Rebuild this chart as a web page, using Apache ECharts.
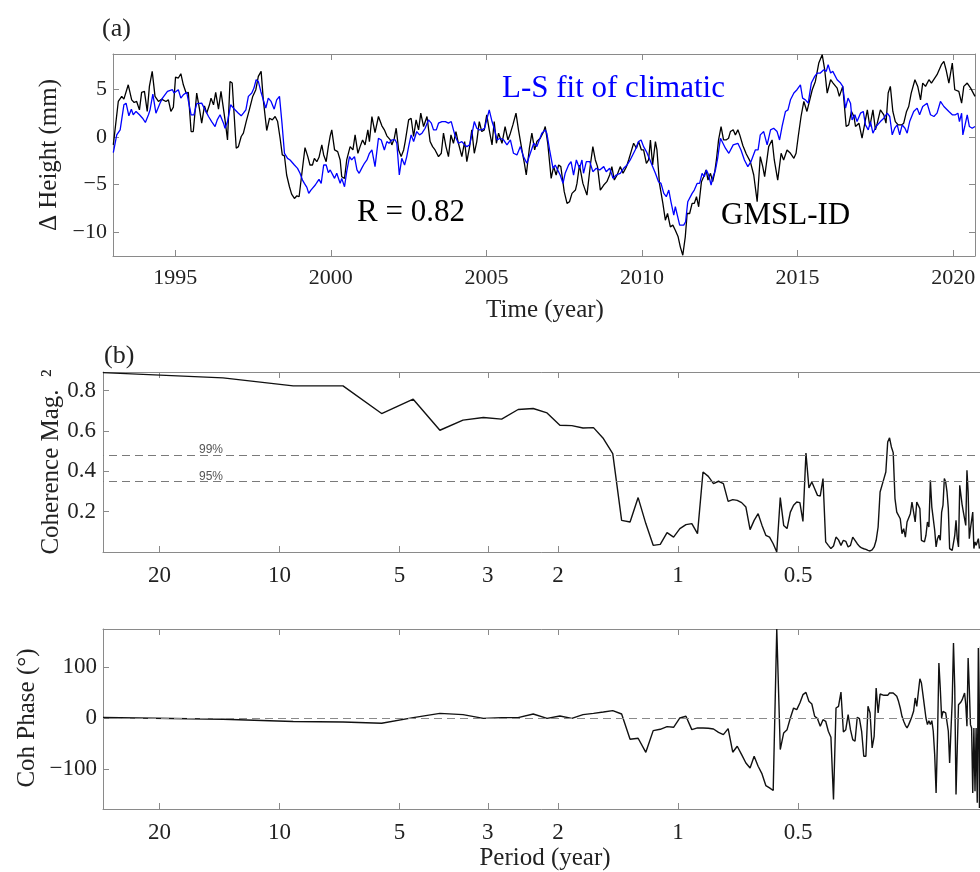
<!DOCTYPE html>
<html>
<head>
<meta charset="utf-8">
<script src="https://cdn.jsdelivr.net/npm/echarts@6/dist/echarts.min.js"></script>
<style>
html, body { margin: 0; padding: 0; background: #fff; }
#container { width: 980px; height: 872px; }
</style>
</head>
<body>
<div id="container"></div>
<script>
var dom = document.getElementById("container");
var myChart = echarts.init(dom);

// (a) GMSL-ID and its L-S fit of climatic indices, mm, decimal years
var gmslYear = [1993.01,1993.17,1993.28,1993.35,1993.49,1993.60,1993.68,1993.76,1993.85,1993.92,1994.01,1994.10,1994.17,1994.26,1994.35,1994.46,1994.56,1994.62,1994.70,1994.78,1994.86,1994.94,1995.01,1995.10,1995.18,1995.26,1995.35,1995.42,1995.51,1995.58,1995.69,1995.78,1995.85,1995.94,1996.01,1996.10,1996.15,1996.23,1996.30,1996.39,1996.47,1996.53,1996.60,1996.68,1996.76,1996.83,1996.89,1996.96,1997.03,1997.12,1997.19,1997.28,1997.38,1997.49,1997.59,1997.67,1997.76,1997.83,1997.94,1998.03,1998.12,1998.21,1998.29,1998.37,1998.44,1998.51,1998.58,1998.67,1998.74,1998.83,1998.91,1998.98,1999.07,1999.17,1999.26,1999.33,1999.41,1999.47,1999.55,1999.62,1999.71,1999.77,1999.85,1999.92,1999.98,
  2000.03,2000.12,2000.22,2000.30,2000.35,2000.44,2000.51,2000.62,2000.71,2000.78,2000.87,2000.94,2001.02,2001.10,2001.19,2001.24,2001.32,2001.42,2001.53,2001.64,2001.72,2001.80,2001.91,2001.96,2002.04,2002.10,2002.18,2002.26,2002.34,2002.39,2002.50,2002.58,2002.66,2002.74,2002.82,2002.89,2002.98,2003.09,2003.19,2003.27,2003.35,2003.46,2003.55,2003.62,2003.70,2003.78,2003.86,2003.94,2004.02,2004.10,2004.21,2004.30,2004.37,2004.46,2004.53,2004.61,2004.69,2004.77,2004.85,2004.93,2005.01,2005.09,2005.18,2005.25,2005.32,2005.39,2005.50,2005.60,2005.69,2005.77,2005.85,2005.95,2006.03,2006.14,2006.22,2006.28,2006.38,2006.46,2006.55,2006.62,2006.73,2006.84,2006.89,
  2006.97,2007.08,2007.16,2007.24,2007.32,2007.39,2007.50,2007.59,2007.67,2007.75,2007.86,2007.91,2007.99,2008.10,2008.23,2008.34,2008.42,2008.50,2008.57,2008.66,2008.77,2008.87,2008.96,2009.03,2009.11,2009.20,2009.30,2009.39,2009.50,2009.57,2009.65,2009.73,2009.82,2009.89,2009.98,2010.05,2010.14,2010.21,2010.27,2010.34,2010.43,2010.48,2010.56,2010.61,2010.67,2010.75,2010.82,2010.91,2010.99,2011.07,2011.16,2011.23,2011.31,2011.39,2011.45,2011.53,2011.61,2011.68,2011.75,2011.82,2011.91,2011.98,2012.06,2012.12,2012.20,2012.27,2012.33,2012.39,2012.46,2012.54,2012.62,2012.70,2012.78,2012.84,2012.93,2013.00,2013.08,2013.14,2013.24,2013.35,2013.48,2013.59,
  2013.70,2013.80,2013.88,2013.94,2014.07,2014.18,2014.25,2014.36,2014.47,2014.55,2014.66,2014.77,2014.88,2014.95,2015.02,2015.11,2015.20,2015.30,2015.47,2015.57,2015.68,2015.79,2015.87,2015.95,2016.06,2016.14,2016.27,2016.34,2016.45,2016.56,2016.64,2016.73,2016.81,2016.86,2016.97,2017.07,2017.16,2017.24,2017.32,2017.42,2017.50,2017.56,2017.66,2017.77,2017.84,2017.91,2017.98,2018.06,2018.14,2018.23,2018.34,2018.41,2018.50,2018.57,2018.65,2018.77,2018.86,2018.95,2019.02,2019.11,2019.22,2019.30,2019.48,2019.62,2019.70,2019.77,2019.86,2019.97,2020.05,2020.18,2020.27,2020.34,2020.45,2020.56,2020.70];
var gmslVal = [-0.84,3.72,4.25,3.96,5.47,3.89,3.61,3.72,2.84,4.67,4.77,2.67,5.30,6.88,4.25,3.72,3.96,4.14,3.72,3.89,2.67,3.12,6.28,6.18,6.63,5.47,4.60,4.67,0.56,0.56,4.60,2.91,1.44,3.26,2.49,3.37,4.07,3.37,4.67,2.91,4.77,4.77,1.79,-0.32,5.82,5.65,2.49,-1.19,-1.02,0.04,0.39,1.61,2.84,4.25,4.95,6.35,6.88,3.89,0.67,1.96,1.79,2.14,1.61,-0.14,-1.89,-2.00,-4.00,-5.23,-6.00,-6.46,-6.18,-6.28,-3.82,-1.12,-2.07,-2.95,-2.95,-2.25,-2.60,-2.14,-0.84,-1.89,-2.60,-1.02,0.11,
  0.74,-1.37,-1.54,-2.42,-4.18,-4.35,-2.42,-1.02,-1.37,0.21,-1.72,-1.02,-0.32,-0.84,0.74,-0.49,2.14,0.46,2.14,1.16,0.74,0.11,-0.32,-0.84,-0.14,0.91,-1.37,-2.07,-1.37,-0.49,1.79,1.96,0.04,1.79,0.74,2.49,1.09,2.14,-0.49,-1.02,-1.37,-2.07,-1.72,0.39,-1.02,-2.07,0.21,-0.67,0.56,-0.67,-2.07,-0.49,-2.60,-1.02,0.74,-1.72,-0.49,1.61,0.56,0.74,2.32,0.74,-0.84,1.61,-0.67,0.39,-0.67,1.09,-0.32,0.39,1.26,2.49,0.74,-1.37,-2.77,-4.00,-1.19,0.39,-1.37,-0.49,-0.14,0.56,1.09,
  -0.67,-4.35,-3.12,-4.00,-2.95,-3.12,-5.75,-6.98,-6.81,-5.93,-5.58,-4.88,-2.95,-4.88,-6.11,-2.95,-1.02,-2.42,-3.12,-5.58,-5.05,-4.70,-4.00,-3.12,-4.53,-4.00,-3.12,-3.82,-3.12,-2.42,-1.54,-0.67,-1.19,-0.49,-1.37,-1.37,-2.77,-2.42,-0.32,-2.95,-0.49,-1.37,-4.88,-4.70,-6.98,-8.74,-8.04,-9.44,-9.26,-9.79,-10.49,-11.54,-12.42,-10.49,-8.04,-8.04,-6.98,-6.98,-6.28,-7.33,-4.70,-4.18,-3.47,-4.53,-3.82,-4.70,-3.82,-2.42,-0.32,1.09,-0.32,-0.32,-0.14,0.56,0.74,0.21,0.74,0.21,-0.90,-1.80,-2.60,-4.00,
  -6.81,-2.07,-3.12,-4.18,-1.02,-0.32,-2.42,-4.53,-1.72,-2.42,-1.37,-1.72,-2.25,-1.72,0.04,2.14,3.72,2.67,4.95,5.82,7.75,8.63,7.05,4.60,6.00,5.65,5.12,4.25,5.30,1.09,1.26,2.67,2.14,1.09,1.44,-0.14,1.44,2.84,1.09,2.84,0.74,1.44,2.84,2.32,1.44,4.60,5.30,2.67,1.61,1.26,1.26,1.44,2.67,3.19,4.60,6.00,5.30,3.89,5.65,5.30,6.00,5.65,6.53,7.58,7.93,7.05,5.65,7.75,4.95,4.77,3.54,5.30,5.65,5.12,4.25];

var fitYear = [1993.01,1993.12,1993.23,1993.28,1993.35,1993.42,1993.51,1993.59,1993.65,1993.74,1993.85,1993.95,1994.04,1994.14,1994.19,1994.28,1994.38,1994.44,1994.51,1994.59,1994.65,1994.75,1994.80,1994.91,1994.96,1995.10,1995.18,1995.26,1995.37,1995.43,1995.51,1995.60,1995.69,1995.75,1995.85,1995.96,1996.07,1996.17,1996.28,1996.35,1996.44,1996.55,1996.60,1996.68,1996.78,1996.92,1997.03,1997.12,1997.19,1997.27,1997.35,1997.46,1997.53,1997.60,1997.67,1997.75,1997.83,1997.91,1997.99,1998.08,1998.18,1998.26,1998.35,1998.43,1998.51,1998.61,1998.69,1998.74,1998.83,1998.93,1999.01,1999.09,1999.15,1999.23,1999.29,1999.36,1999.42,1999.50,1999.57,1999.62,1999.69,1999.77,1999.85,1999.92,1999.98,
  2000.03,2000.12,2000.19,2000.30,2000.35,2000.44,2000.51,2000.60,2000.67,2000.76,2000.84,2000.91,2000.99,2001.08,2001.16,2001.24,2001.32,2001.42,2001.53,2001.62,2001.72,2001.80,2001.87,2001.96,2002.07,2002.12,2002.20,2002.28,2002.37,2002.44,2002.50,2002.58,2002.66,2002.76,2002.85,2002.93,2003.03,2003.14,2003.23,2003.30,2003.39,2003.46,2003.57,2003.68,2003.78,2003.87,2003.94,2004.00,2004.10,2004.21,2004.30,2004.37,2004.46,2004.53,2004.61,2004.69,2004.77,2004.85,2004.94,2005.09,2005.18,2005.25,2005.34,2005.44,2005.55,2005.66,2005.77,2005.87,2005.98,2006.09,2006.19,2006.30,2006.41,2006.52,2006.62,2006.78,2006.89,
  2006.94,2007.03,2007.14,2007.21,2007.37,2007.46,2007.53,2007.64,2007.72,2007.80,2007.89,2007.99,2008.07,2008.12,2008.21,2008.32,2008.42,2008.53,2008.64,2008.77,2008.85,2008.96,2009.07,2009.17,2009.30,2009.41,2009.52,2009.62,2009.78,2009.89,2009.97,2010.05,2010.14,2010.21,2010.32,2010.43,2010.53,2010.61,2010.70,2010.78,2010.86,2010.93,2011.02,2011.07,2011.12,2011.21,2011.34,2011.40,2011.47,2011.53,2011.61,2011.68,2011.77,2011.85,2011.93,2012.00,2012.07,2012.14,2012.22,2012.28,2012.36,2012.43,2012.52,2012.60,2012.68,2012.79,2012.93,2013.08,2013.18,2013.29,2013.40,2013.50,
  2013.64,2013.73,2013.80,2013.91,2014.02,2014.13,2014.23,2014.34,2014.42,2014.50,2014.61,2014.69,2014.77,2014.88,2014.98,2015.09,2015.16,2015.25,2015.34,2015.44,2015.55,2015.63,2015.73,2015.84,2015.92,2015.98,2016.06,2016.13,2016.19,2016.27,2016.38,2016.45,2016.54,2016.62,2016.70,2016.75,2016.84,2016.91,2017.02,2017.11,2017.18,2017.27,2017.34,2017.42,2017.52,2017.66,2017.77,2017.88,2017.96,2018.04,2018.12,2018.20,2018.28,2018.36,2018.45,2018.52,2018.60,2018.73,2018.84,2018.92,2019.02,2019.16,2019.27,2019.38,2019.48,2019.59,2019.70,2019.86,2019.97,2020.07,2020.15,2020.20,2020.27,2020.31,2020.37,2020.45,2020.52,2020.61,2020.70];
var fitVal = [-1.65,0.21,0.74,0.91,3.37,3.54,2.21,2.91,2.32,2.67,2.32,1.96,1.51,2.32,2.84,4.49,2.49,2.49,3.54,4.07,4.25,4.77,4.60,4.95,4.60,4.95,4.07,4.42,4.67,4.60,2.32,2.32,3.50,3.37,3.54,2.84,2.14,1.61,1.09,1.79,2.32,1.44,0.91,1.61,3.37,2.84,2.49,2.21,2.49,2.84,4.25,4.60,5.12,6.00,5.82,4.77,3.89,3.02,4.07,3.72,2.91,3.89,4.25,1.44,-1.72,-2.25,-2.42,-2.35,-2.95,-3.30,-3.82,-4.53,-4.88,-5.30,-5.93,-5.58,-5.75,-5.05,-4.70,-4.46,-4.88,-2.95,-2.95,-3.75,-3.47,
  -3.47,-4.35,-3.82,-4.88,-4.35,-5.23,-3.65,-2.07,-2.42,-2.07,-3.47,-3.82,-3.30,-2.77,-2.42,-1.72,-1.37,-3.12,-0.14,-0.32,-1.37,-0.49,-0.67,-0.32,-0.32,-0.67,-4.00,-2.25,-2.95,-2.07,-1.02,0.21,-0.49,0.56,0.21,0.39,0.91,1.79,1.44,0.74,0.74,1.44,1.61,1.61,1.44,1.61,0.74,0.04,-0.67,-0.49,-0.84,-1.02,-0.84,0.21,1.61,0.91,0.74,0.74,0.91,2.84,1.61,0.91,-0.32,-0.14,-0.32,-0.84,-0.32,-1.72,-1.89,-1.02,-2.07,-2.77,-1.72,-0.67,-1.02,0.39,0.74,
  0.39,-1.37,-3.30,-2.95,-4.00,-4.88,-3.82,-2.95,-2.60,-4.00,-2.42,-3.30,-2.42,-3.82,-2.60,-2.60,-3.65,-3.30,-3.47,-3.12,-3.65,-3.30,-4.35,-4.00,-3.82,-3.30,-2.95,-2.42,-1.37,-0.49,-0.32,-1.02,-1.54,-2.07,-2.95,-3.82,-4.70,-4.88,-5.93,-6.28,-5.58,-6.81,-8.21,-7.33,-7.16,-9.26,-9.26,-8.91,-6.81,-6.63,-5.93,-5.58,-4.88,-4.88,-3.82,-4.18,-3.47,-4.00,-5.05,-4.18,-3.47,-2.25,-0.14,-0.67,-1.19,-1.72,-0.84,-0.67,-1.37,-2.42,-3.12,-2.60,
  -1.37,-1.37,0.21,0.56,-0.84,0.74,0.91,0.56,-0.32,1.09,2.67,2.84,3.89,4.60,4.95,5.47,4.07,3.89,3.54,5.65,6.35,6.70,6.70,7.05,6.88,7.58,6.70,6.88,6.88,6.00,5.65,5.30,3.02,4.07,3.54,1.79,2.32,1.61,2.49,2.67,1.26,0.74,1.61,0.39,1.09,1.61,1.96,2.49,2.14,0.21,0.91,1.26,0.21,1.26,0.91,0.39,1.61,2.67,3.02,2.32,3.19,3.54,2.32,2.14,2.49,3.72,3.19,2.67,2.32,2.32,2.49,1.61,2.49,0.21,1.09,2.32,1.09,0.91,1.09];

// (b),(c) coherence, one value per Fourier harmonic k = 1, 2, 3 ... of the record
var RECORD_YEARS = 27.7;
var LAST_HARMONIC = 166;
var cohMag = [0.890,0.864,0.824,0.824,0.687,0.758,0.604,0.654,0.667,0.659,0.707,0.712,0.690,0.629,0.627,0.615,0.617,0.563,0.488,0.157,
  0.149,0.270,0.141,0.033,0.038,0.096,0.074,0.116,0.136,0.141,0.091,0.397,0.375,0.339,0.351,0.339,0.251,0.260,0.256,0.245,
  0.223,0.111,0.157,0.190,0.132,0.083,0.074,0.041,0.000,0.270,0.132,0.116,0.198,0.232,0.248,0.245,0.152,0.491,0.318,0.347,
  0.314,0.281,0.278,0.364,0.050,0.033,0.017,0.030,0.074,0.060,0.033,0.058,0.053,0.025,0.033,0.074,0.058,0.041,0.028,0.020,
  0.016,0.013,0.008,0.005,0.010,0.025,0.058,0.124,0.298,0.306,0.364,0.397,0.546,0.566,0.521,0.493,0.265,0.198,0.190,0.165,
  0.091,0.116,0.074,0.149,0.157,0.190,0.248,0.248,0.149,0.248,0.256,0.215,0.058,0.058,0.050,0.083,0.149,0.124,0.356,0.223,
  0.215,0.108,0.025,0.066,0.083,0.058,0.198,0.232,0.364,0.347,0.298,0.215,0.017,0.008,0.008,0.013,0.083,0.157,0.066,0.025,
  0.331,0.281,0.232,0.198,0.207,0.132,0.405,0.298,0.066,0.116,0.116,0.198,0.017,0.050,0.033,0.050,0.066,0.017];
var cohPhase = [1,-2.6,-7,-7.8,-10.4,0.7,9.1,6.5,-0.7,0.7,0.7,7.8,-0.7,3.9,-0.7,6.5,9.1,11.7,14.3,7.8,
  -41.7,-39.7,-67.1,-24.7,-22.1,-16.9,-18.2,0,3.3,-22.8,-19.5,-19.5,-20.2,-21.5,-28,-32.6,-20.8,-67,-55.3,-71.6,
  -88,-97.7,-74.9,-94.4,-109.4,-132.2,-136.7,-141.9,174,-61.8,-29.3,-22.8,0,19.5,16.3,29.3,45.6,50.1,32.6,27.3,
  3.3,-1.3,-16.3,-3.3,-6.5,-26,-37.8,-159.5,19.5,22.8,50.8,-27.3,-22.8,6.5,-22.8,-42.3,-45.6,1.3,-1.3,-26,
  -74.9,-74.9,22.8,9.8,-58.6,-35.8,58.6,9.8,46.9,45.6,44.3,42.3,44.3,48.8,50.8,48.8,45.6,42.3,32.6,19.5,
  3.3,-6.5,-14.3,-19.5,-13,-5.2,3.3,13,39.1,22.8,26,76.8,68.4,45.6,22.8,0,-13,-5.2,-13,-5.2,
  -26,-71.6,-146.5,-39,107.4,58.6,0,13,11.7,9.8,6.5,-26,-87.9,-26,32.6,146.5,58.6,-149.7,-58.6,26,
  29.3,31.3,35.8,39.1,48.8,26,-16.3,117.2,58.6,-13,-19.5,-146.5,-19.5,-143.2,-19.5,-166,136.7,-175.8,140];
var confLevels = [0.48, 0.347];
var confNames = ['99%', '95%'];

// tick labels
var yearTicks = [1995, 2000, 2005, 2010, 2015, 2020];
var heightTicks = [-10, -5, 0, 5];
var periodTicks = [20, 10, 5, 3, 2, 1, 0.5];
var cohTicks = [0.2, 0.4, 0.6, 0.8];
var phaseTicks = [-100, 0, 100];

var SERIF = '"Liberation Serif", "Times New Roman", serif';
var BOX = '#8a8a8a';
var INK = '#222';

function pairs(xs, ys) {
    return xs.map(function (x, i) { return [x, ys[i]]; });
}
// x of the spectral panels is log10(period), period of harmonic k = record / k
function spectrum(vals) {
    return vals.map(function (v, i) { return [Math.log10(RECORD_YEARS / (i + 1)), v]; });
}
var logPeriodTicks = periodTicks.map(function (p) { return Math.log10(p); });
var logMax = Math.log10(RECORD_YEARS);
var logMin = Math.log10(RECORD_YEARS / LAST_HARMONIC);

function periodLabel(v) {
    var p = Math.pow(10, v);
    return p >= 1 ? String(Math.round(p)) : String(Math.round(p * 10) / 10);
}
function signed(v) {
    return v < 0 ? '\u2212' + (-v) : String(v);
}
function plain(v) {
    return String(v);
}

function axis(grid, pos, min, max, ticks, fontSize, margin, fmt, extra) {
    var a = {
        type: 'value', gridIndex: grid, position: pos, min: min, max: max,
        axisLine: { show: true, onZero: false, lineStyle: { color: BOX, width: 1 } },
        axisTick: { show: true, inside: true, length: 6, customValues: ticks, lineStyle: { color: BOX } },
        axisLabel: {
            show: fontSize > 0, customValues: ticks, margin: margin, formatter: fmt || plain,
            fontFamily: SERIF, fontSize: fontSize, color: INK
        },
        splitLine: { show: false }
    };
    for (var key in extra) a[key] = extra[key];
    return a;
}

function text(str, x, y, size, color, align, rotate) {
    return {
        type: 'text', x: x, y: y, rotation: rotate ? Math.PI / 2 : 0, silent: true,
        style: {
            text: str, fontFamily: SERIF, fontSize: size, fill: color,
            align: align || 'center', verticalAlign: 'middle',
            textAlign: align || 'center', textVerticalAlign: 'middle'
        }
    };
}

var inv = { inverse: true };

option = {
    animation: false,
    backgroundColor: '#fff',
    grid: [
        { left: 113, top: 54, width: 862, height: 202, outerBoundsMode: 'none' },
        { left: 103, top: 372, width: 885, height: 180, outerBoundsMode: 'none' },
        { left: 103, top: 629, width: 885, height: 180, outerBoundsMode: 'none' }
    ],
    xAxis: [
        axis(0, 'bottom', 1993, 2020.7, yearTicks, 22, 11, plain, {}),
        axis(0, 'top', 1993, 2020.7, yearTicks, 0, 8, null, {}),
        axis(1, 'bottom', logMin, logMax, logPeriodTicks, 23, 12, periodLabel, inv),
        axis(1, 'top', logMin, logMax, logPeriodTicks, 0, 8, null, inv),
        axis(2, 'bottom', logMin, logMax, logPeriodTicks, 23, 12, periodLabel, inv),
        axis(2, 'top', logMin, logMax, logPeriodTicks, 0, 8, null, inv)
    ],
    yAxis: [
        axis(0, 'left', -12.5, 8.7, heightTicks, 22, 6, signed, {}),
        axis(0, 'right', -12.5, 8.7, heightTicks, 0, 6, null, {}),
        axis(1, 'left', 0, 0.893, cohTicks, 23, 7, function (v) { return v.toFixed(1); }, {}),
        axis(1, 'right', 0, 0.893, cohTicks, 0, 6, null, {}),
        axis(2, 'left', -178, 174, phaseTicks, 23, 6, signed, {}),
        axis(2, 'right', -178, 174, phaseTicks, 0, 6, null, {})
    ],
    series: [
        {
            name: 'GMSL-ID', type: 'line', xAxisIndex: 0, yAxisIndex: 0,
            data: pairs(gmslYear, gmslVal), showSymbol: false,
            lineStyle: { color: '#000', width: 1.3 }
        },
        {
            name: 'L-S fit of climatic', type: 'line', xAxisIndex: 0, yAxisIndex: 0,
            data: pairs(fitYear, fitVal), showSymbol: false,
            lineStyle: { color: '#0000ff', width: 1.3 }
        },
        {
            name: 'Coherence', type: 'line', xAxisIndex: 2, yAxisIndex: 2,
            data: spectrum(cohMag), showSymbol: false,
            lineStyle: { color: '#111', width: 1.4 },
            markLine: {
                silent: true, symbol: ['none', 'none'], label: { show: false },
                lineStyle: { color: '#7a7a7a', width: 1, type: [8, 5] },
                data: confLevels.map(function (v) { return { yAxis: v }; })
            }
        },
        {
            name: 'Phase', type: 'line', xAxisIndex: 4, yAxisIndex: 4,
            data: spectrum(cohPhase), showSymbol: false,
            lineStyle: { color: '#111', width: 1.4 },
            markLine: {
                silent: true, symbol: ['none', 'none'], label: { show: false },
                lineStyle: { color: '#8a8a8a', width: 1, type: [8, 5] },
                data: [{ yAxis: 0 }]
            }
        }
    ],
    graphic: [
        text('(a)', 102, 29, 26, INK, 'left'),
        text('(b)', 104, 356, 26, INK, 'left'),
        text('\u0394 Height (mm)', 49, 155, 25, INK, 'center', true),
        text('Coherence Mag.\u2002\u00b2', 51, 462, 25, INK, 'center', true),
        text('Coh Phase (\u00b0)', 27, 718, 25, INK, 'center', true),
        text('Time (year)', 545, 310, 25, INK),
        text('Period (year)', 545, 858, 25, INK),
        text('L-S fit of climatic', 502, 89, 31, '#0000ff', 'left'),
        text('R = 0.82', 357, 213, 31, '#000', 'left'),
        text('GMSL-ID', 721, 216, 31, '#000', 'left'),
        {
            type: 'text', x: 211, y: 450, silent: true,
            style: { text: confNames[0], fontFamily: '"Liberation Sans", Arial, sans-serif', fontSize: 12, fill: '#555', align: 'center', verticalAlign: 'middle' }
        },
        {
            type: 'text', x: 211, y: 477, silent: true,
            style: { text: confNames[1], fontFamily: '"Liberation Sans", Arial, sans-serif', fontSize: 12, fill: '#555', align: 'center', verticalAlign: 'middle' }
        }
    ]
};

if (option && typeof option === "object") {
    myChart.setOption(option, true);
}
</script>
</body>
</html>
